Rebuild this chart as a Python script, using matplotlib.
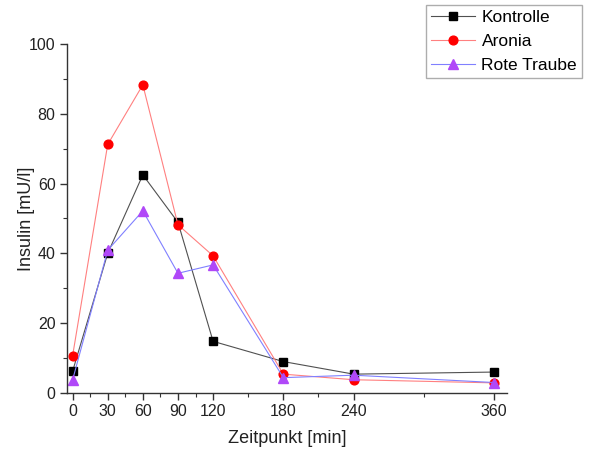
import matplotlib
matplotlib.use("Agg")
import matplotlib.pyplot as plt
from matplotlib.ticker import FixedLocator

plt.rcParams['font.family'] = ['Liberation Sans', 'DejaVu Sans']

# Sampling times (min)
zeit = [0, 30, 60, 90, 120, 180, 240, 360]

# Insulin concentration [mU/l]
kontrolle = [6.2, 40.0, 62.5, 48.9, 14.8, 9.0, 5.4, 6.0]
aronia = [10.6, 71.2, 88.3, 48.2, 39.3, 5.4, 3.8, 2.9]
rote_traube = [3.7, 40.9, 52.2, 34.3, 36.7, 4.4, 5.1, 3.0]

x_major = [0, 30, 60, 90, 120, 180, 240, 360]
x_minor = [15, 45, 75, 105, 150, 210, 300]

fig = plt.figure(figsize=(5.93, 4.59), dpi=100)
ax = fig.add_axes([0.1125, 0.1438, 0.7425, 0.7604])

ax.plot(zeit, kontrolle, color='#505050', lw=0.8, marker='s', ms=5.5,
        mfc='black', mec='black', label='Kontrolle')
ax.plot(zeit, aronia, color='#ff8080', lw=0.8, marker='o', ms=6.3,
        mfc='#ff0000', mec='#ff0000', label='Aronia')
ax.plot(zeit, rote_traube, color='#8080ff', lw=0.8, marker='^', ms=6.5,
        mfc='#b048f8', mec='#b048f8', label='Rote Traube')

ax.set_xlim(-5, 371)
ax.set_ylim(0, 100)
ax.xaxis.set_major_locator(FixedLocator(x_major))
ax.xaxis.set_minor_locator(FixedLocator(x_minor))
ax.set_yticks([0, 20, 40, 60, 80, 100])
ax.yaxis.set_minor_locator(FixedLocator([10, 30, 50, 70, 90]))

for s in ['top', 'right']:
    ax.spines[s].set_visible(False)
for s in ['left', 'bottom']:
    ax.spines[s].set_color('#333333')
    ax.spines[s].set_linewidth(1.0)

ax.tick_params(which='major', direction='out', length=5, width=1.0,
               color='#333333', labelsize=11.5, labelcolor='#222222', pad=3)
ax.tick_params(which='minor', direction='out', length=3, width=0.8,
               color='#333333')

ax.set_xlabel('Zeitpunkt [min]', fontsize=13, color='#222222', labelpad=8)
ax.set_ylabel('Insulin [mU/l]', fontsize=13, color='#222222')
ax.yaxis.set_label_coords(-0.073, 0.5)

leg = fig.legend(loc='upper right', bbox_to_anchor=(0.982, 0.99),
                 fontsize=12.5, frameon=True, fancybox=False,
                 borderpad=0.3, handlelength=2.5, handletextpad=0.4,
                 labelspacing=0.5, borderaxespad=0)
leg.get_frame().set_edgecolor('#999999')
leg.get_frame().set_linewidth(1.0)

fig.savefig('out.png', dpi=100)
